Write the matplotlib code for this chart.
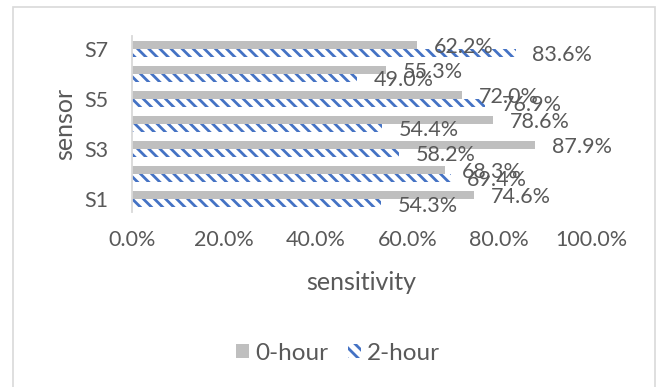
import matplotlib
matplotlib.use("Agg")
import matplotlib.pyplot as plt
import matplotlib.patches as mpatches
import numpy as np

# Sensitivity per sensor at 0 h and 2 h
sensors = ["S1", "S2", "S3", "S4", "S5", "S6", "S7"]
hour0 = [74.6, 68.3, 87.9, 78.6, 72.0, 55.3, 62.2]
hour2 = [54.3, 69.4, 58.2, 54.4, 76.9, 49.0, 83.6]
series_names = ["0-hour", "2-hour"]
shown_ticks = ["S1", "S3", "S5", "S7"]
x_ticks = [0, 20, 40, 60, 80, 100]

TEXT = "#595959"
GREY = "#bfbfbf"
BLUE = "#4472c4"
AXIS = "#d9d9d9"
FS = 15.5

plt.rcParams["font.family"] = ["Lato", "DejaVu Sans"]
plt.rcParams["hatch.linewidth"] = 2.0

fig = plt.figure(figsize=(6.57, 3.87), dpi=100)
ax = fig.add_axes([132 / 657, 175 / 387, 459 / 657, 176 / 387])

y = np.arange(len(sensors))
h = 0.32
b0 = ax.barh(y + h / 2, hour0, height=h, color=GREY, linewidth=0)
b2 = ax.barh(y - h / 2, hour2, height=h, facecolor="white",
             edgecolor=BLUE, hatch="\\\\\\", linewidth=0)

# value labels to the right of each bar
for bars, vals in ((b0, hour0), (b2, hour2)):
    for rect, v in zip(bars, vals):
        ax.annotate(f"{v:.1f}%",
                    xy=(rect.get_width(), rect.get_y() + rect.get_height() / 2),
                    xytext=(12, -1.5), textcoords="offset points",
                    ha="left", va="center", fontsize=FS, color=TEXT,
                    annotation_clip=False)

ax.set_xlim(0, 100)
ax.set_ylim(-0.5, len(sensors) - 0.5)
ax.set_xticks(x_ticks)
ax.set_xticklabels([f"{t:.1f}%" for t in x_ticks])
ax.set_yticks([sensors.index(s) for s in shown_ticks])
ax.set_yticklabels(shown_ticks)
ax.tick_params(axis="x", length=0, pad=13, labelsize=FS, labelcolor=TEXT)
ax.tick_params(axis="y", length=0, pad=17, labelsize=FS, labelcolor=TEXT)

for side in ("top", "right", "bottom"):
    ax.spines[side].set_visible(False)
ax.spines["left"].set_color(AXIS)
ax.spines["left"].set_linewidth(1.3)

ax.set_ylabel("sensor", fontsize=18, color=TEXT, va="center")
ax.yaxis.set_label_coords(-0.146, 0.5)
ax.set_xlabel("sensitivity", fontsize=18, color=TEXT, va="center")
ax.xaxis.set_label_coords(0.5, -0.403)

handles = [mpatches.Patch(facecolor=GREY, linewidth=0),
           mpatches.Patch(facecolor="white", edgecolor=BLUE, hatch="\\\\\\", linewidth=0)]
fig.legend(handles, series_names, loc="center", bbox_to_anchor=(338 / 657, 1 - 353 / 387),
           ncol=2, frameon=False, fontsize=17.5, labelcolor=TEXT,
           handlelength=0.53, handleheight=0.53, handletextpad=0.25,
           columnspacing=0.8)

# chart-area border
fig.patches.append(mpatches.Rectangle((13 / 657, -0.05), 642 / 657, 1 - 7 / 387 + 0.05,
                                      transform=fig.transFigure, fill=False,
                                      edgecolor=AXIS, linewidth=1.2))

fig.savefig("out.png", dpi=100)
